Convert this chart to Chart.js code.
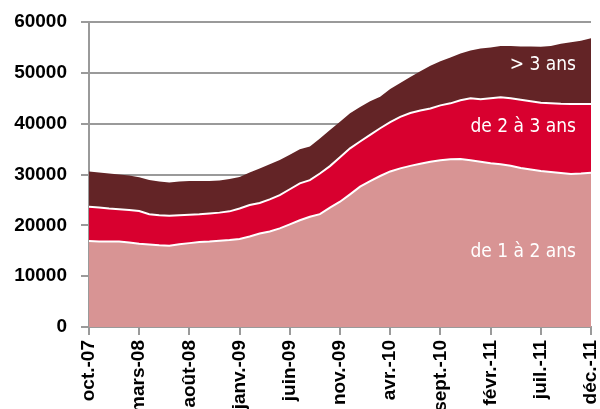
<!DOCTYPE html>
<html>
<head>
<meta charset="utf-8">
<script src="https://cdn.jsdelivr.net/npm/chart.js@4/dist/chart.umd.min.js"></script>
<style>
  html, body { margin: 0; padding: 0; background: #fff; overflow: hidden; }
  #wrap { width: 600px; height: 409px; position: relative; }
</style>
</head>
<body>
<div id="wrap"><canvas id="chart"></canvas></div>
<script>
// mois, d'oct-07 a dec-11
const mois = [
    'oct.-07', 'nov.-07', 'déc.-07', 'janv.-08', 'févr.-08',
    'mars-08', 'avr.-08', 'mai-08', 'juin-08', 'juil.-08',
    'août-08', 'sept.-08', 'oct.-08', 'nov.-08', 'déc.-08',
    'janv.-09', 'févr.-09', 'mars-09', 'avr.-09', 'mai-09',
    'juin-09', 'juil.-09', 'août-09', 'sept.-09', 'oct.-09',
    'nov.-09', 'déc.-09', 'janv.-10', 'févr.-10', 'mars-10',
    'avr.-10', 'mai-10', 'juin-10', 'juil.-10', 'août-10',
    'sept.-10', 'oct.-10', 'nov.-10', 'déc.-10', 'janv.-11',
    'févr.-11', 'mars-11', 'avr.-11', 'mai-11', 'juin-11',
    'juil.-11', 'août-11', 'sept.-11', 'oct.-11', 'nov.-11',
    'déc.-11'
];

const de1a2ans = [
    16900, 16800, 16800, 16800, 16600, 16400, 16250, 16100, 16000, 16300,
    16500, 16700, 16800, 16950, 17100, 17300, 17800, 18400, 18800, 19400,
    20200, 21000, 21700, 22200, 23500, 24650, 26100, 27600, 28700, 29700,
    30600, 31200, 31700, 32100, 32500, 32800, 33000, 33050, 32800, 32500,
    32200, 32000, 31700, 31300, 31000, 30700, 30500, 30300, 30100, 30200,
    30350
];

const de2a3ans = [
    6750, 6700, 6500, 6350, 6400, 6400, 5950, 5900, 5900, 5700,
    5600, 5500, 5550, 5550, 5650, 6000, 6200, 6000, 6300, 6550,
    6900, 7250, 7200, 8000, 8150, 8750, 9050, 8900, 9100, 9400,
    9700, 10150, 10400, 10500, 10500, 10800, 11000, 11550, 12200, 12300,
    12800, 13200, 13300, 13400, 13400, 13400, 13500, 13600, 13750, 13650,
    13500
];

const plus3ans = [
    6950, 6900, 6900, 6850, 6800, 6650, 6700, 6600, 6550, 6600,
    6600, 6500, 6350, 6300, 6350, 6200, 6400, 6800, 6900, 6900,
    6800, 6700, 6600, 6900, 7100, 7000, 6900, 6800, 6600, 6200,
    6500, 6650, 7100, 7700, 8400, 8700, 9000, 9200, 9400, 10000,
    10000, 10100, 10300, 10500, 10800, 11050, 11300, 11800, 12150, 12450,
    12950
];

const yTicks = [0, 10000, 20000, 30000, 40000, 50000, 60000];
const etiquettes = ['de 1 à 2 ans', 'de 2 à 3 ans', '> 3 ans'];

const gris = '#9a9a9a';
const policeAxe = "'Liberation Sans', Arial, sans-serif";
const policeEtiq = "'Liberation Sans Narrow', 'DejaVu Sans Condensed', sans-serif";

// etiquettes blanches dans les aires
const etiquettesPlugin = {
    id: 'etiquettes',
    afterDatasetsDraw(chart) {
        const ctx = chart.ctx;
        const y = chart.scales.y;
        const right = chart.chartArea.right - 15;
        const pos = [14700, 39300, 51600];
        ctx.save();
        ctx.fillStyle = '#fff';
        ctx.font = '19px ' + policeEtiq;
        ctx.textAlign = 'right';
        ctx.textBaseline = 'middle';
        etiquettes.forEach((t, i) => {
            ctx.fillText(t, right, y.getPixelForValue(pos[i]));
        });
        ctx.restore();
    }
};

document.addEventListener('DOMContentLoaded', () => {
    new Chart(document.getElementById('chart'), {
        type: 'line',
        data: {
            labels: mois,
            datasets: [
                {label: etiquettes[0], data: de1a2ans, fill: 'origin',
                 backgroundColor: '#d89494', borderColor: '#fff', borderWidth: 2},
                {label: etiquettes[1], data: de2a3ans, fill: '-1',
                 backgroundColor: '#d8002f', borderColor: '#fff', borderWidth: 2},
                {label: etiquettes[2], data: plus3ans, fill: '-1',
                 backgroundColor: '#632426', borderColor: '#632426', borderWidth: 0},
            ],
        },
        options: {
            responsive: true,
            maintainAspectRatio: false,
            animation: false,
            layout: {padding: {top: 22, right: 9, left: 0, bottom: 0}},
            elements: {point: {radius: 0}, line: {tension: 0}},
            plugins: {legend: {display: false}, tooltip: {enabled: false}},
            scales: {
                x: {
                    stacked: true,
                    offset: false,
                    border: {color: gris, width: 2},
                    grid: {drawOnChartArea: false, drawTicks: true, tickLength: 8, color: gris, lineWidth: 2},
                    ticks: {
                        autoSkip: false,
                        maxRotation: 90,
                        minRotation: 90,
                        padding: 5,
                        color: '#000',
                        font: {family: policeAxe, size: 19, weight: 'bold'},
                        callback: (v, i) => (i % 5 === 0 ? mois[i] : null),
                    },
                    afterFit: (s) => {
                        s.height = 82;
                        s.paddingLeft = 0;
                        s.paddingRight = 0;
                    },
                },
                y: {
                    stacked: true,
                    min: 0,
                    max: 60000,
                    border: {color: gris, width: 2},
                    grid: {color: gris, lineWidth: 2, tickLength: 8},
                    afterBuildTicks: (s) => { s.ticks = yTicks.map(v => ({value: v})); },
                    ticks: {
                        padding: 14,
                        color: '#000',
                        font: {family: policeAxe, size: 19, weight: 'bold'},
                        callback: (v) => String(v),
                    },
                    afterFit: (s) => {
                        s.width = 89;
                        s.paddingTop = 0;
                        s.paddingBottom = 0;
                    },
                },
            },
        },
        plugins: [etiquettesPlugin],
    });
});
</script>
</body>
</html>
